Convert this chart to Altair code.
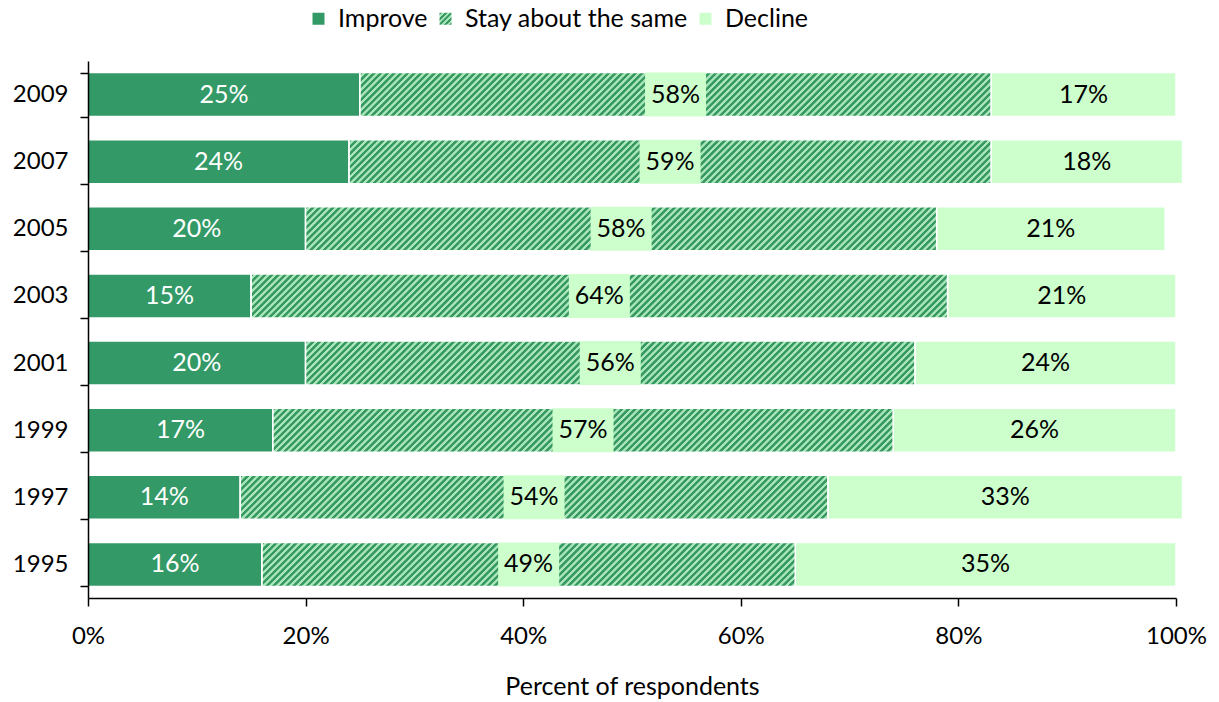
import altair as alt
import pandas as pd

years = ["2009", "2007", "2005", "2003", "2001", "1999", "1997", "1995"]
improve = [25, 24, 20, 15, 20, 17, 14, 16]
stay = [58, 59, 58, 64, 56, 57, 54, 49]
decline = [17, 17.6, 21, 21, 24, 26, 32.6, 35]
categories = ["Improve", "Stay about the same", "Decline"]
colors = ["#339966", "url(#hatchsym)", "#ccffcc"]

DARK = "#379862"
LIGHT = "#a9e6b9"
FONT = "Lato"
PLOT_W = 1088
PLOT_H = 537
P_IN = 0.345
BAR_H = PLOT_H / 8 * (1 - P_IN)

rows = []
for i, yr in enumerate(years):
    start = 0
    for cat, vals in zip(categories, [improve, stay, decline]):
        v = vals[i]
        rows.append(dict(year=yr, category=cat, start=start, end=start + v,
                         mid=start + v / 2, label=f"{round(v)}%"))
        start += v
df = pd.DataFrame(rows)


def stripe_gradient(w, h, period, gid=None):
    s = (w + h) * w / (w * w + h * h)
    dt = period / (w + h)
    stops = []
    k = 0
    while k * dt <= 1:
        base = k * dt
        for frac, col in [(0, DARK), (0.4, DARK), (0.52, LIGHT), (0.88, LIGHT)]:
            off = base + frac * dt
            if off <= 1:
                stops.append({"offset": round(off, 6), "color": col})
        k += 1
    g = {"gradient": "linear", "stops": stops,
         "x1": 0, "y1": 0, "x2": s, "y2": s * h / w}
    if gid:
        g["id"] = gid
    return g


x_scale = alt.Scale(domain=[0, 100], nice=False)
y_scale = alt.Scale(domain=years, paddingInner=P_IN, paddingOuter=P_IN / 2)

x_axis = alt.Axis(values=[0, 20, 40, 60, 80, 100], labelExpr="datum.value + '%'",
                  title="Percent of respondents", tickSize=8, labelPadding=18,
                  titlePadding=26, domainWidth=1.5, tickWidth=1.5, zindex=1,
                  titleFontSize=25, labelFlush=False)
y_axis = alt.Axis(title=None, tickBand="extent", tickSize=8, labelPadding=12,
                  domainWidth=1.5, tickWidth=1.5, zindex=1)


def X(field):
    return alt.X(f"{field}:Q", scale=x_scale, axis=x_axis)


def Y():
    return alt.Y("year:N", scale=y_scale, axis=y_axis)


legend = alt.Legend(
    orient="none", legendX=218, legendY=-55, direction="horizontal", title=None,
    symbolType="square", symbolSize=144, symbolStrokeWidth=0,
    labelFont=FONT, labelFontSize=25, labelColor="black", labelLimit=400,
    labelOffset=7, columnPadding=5, padding=0,
)

base = alt.Chart(df).mark_bar(stroke="white", strokeWidth=1.5).encode(
    x=X("start"), x2="end", y=Y(),
    color=alt.Color("category:N", scale=alt.Scale(domain=categories, range=colors),
                    legend=legend),
)

layers = [base]

# invisible carrier so the legend's hatch gradient gets defined in the SVG
carrier = alt.Chart(df).transform_filter(
    (alt.datum.category == "Stay about the same") & (alt.datum.year == years[0])
).mark_bar(fill=stripe_gradient(12, 12, 5.5, "hatchsym"), opacity=0).encode(
    x=X("start"), x2="end", y=Y())
layers.append(carrier)

for i, yr in enumerate(years):
    w = stay[i] * PLOT_W / 100
    grad = stripe_gradient(w, BAR_H, 6.7)
    layers.append(
        alt.Chart(df).transform_filter(
            (alt.datum.year == yr) & (alt.datum.category == "Stay about the same")
        ).mark_bar(fill=grad, stroke="white", strokeWidth=1.5).encode(
            x=X("start"), x2="end", y=Y())
    )

box = alt.Chart(df).transform_filter(alt.datum.category == "Stay about the same").mark_bar(
    color="#ccffcc", xOffset=-30.5, x2Offset=30.5
).encode(x=X("mid"), x2="mid", y=Y())
layers.append(box)

txt_improve = alt.Chart(df).transform_filter(alt.datum.category == "Improve").mark_text(
    font=FONT, fontSize=25, color="white", baseline="middle"
).encode(x=X("mid"), y=Y(), text="label:N")
txt_other = alt.Chart(df).transform_filter(alt.datum.category != "Improve").mark_text(
    font=FONT, fontSize=25, color="black", baseline="middle"
).encode(x=X("mid"), y=Y(), text="label:N")
layers += [txt_improve, txt_other]

chart = alt.layer(*layers).properties(
    width=PLOT_W, height=PLOT_H,
    padding={"left": 88, "top": 61, "right": 43, "bottom": 104},
    autosize=alt.AutoSizeParams(type="none"),
).configure_axis(
    labelFont=FONT, titleFont=FONT, labelFontSize=24, titleFontSize=24,
    labelColor="black", titleColor="black", domainColor="black", tickColor="black",
    grid=False, titleFontWeight="normal",
).configure_view(stroke=None)

chart.save("out.html", embed_options={"renderer": "svg", "actions": False})
